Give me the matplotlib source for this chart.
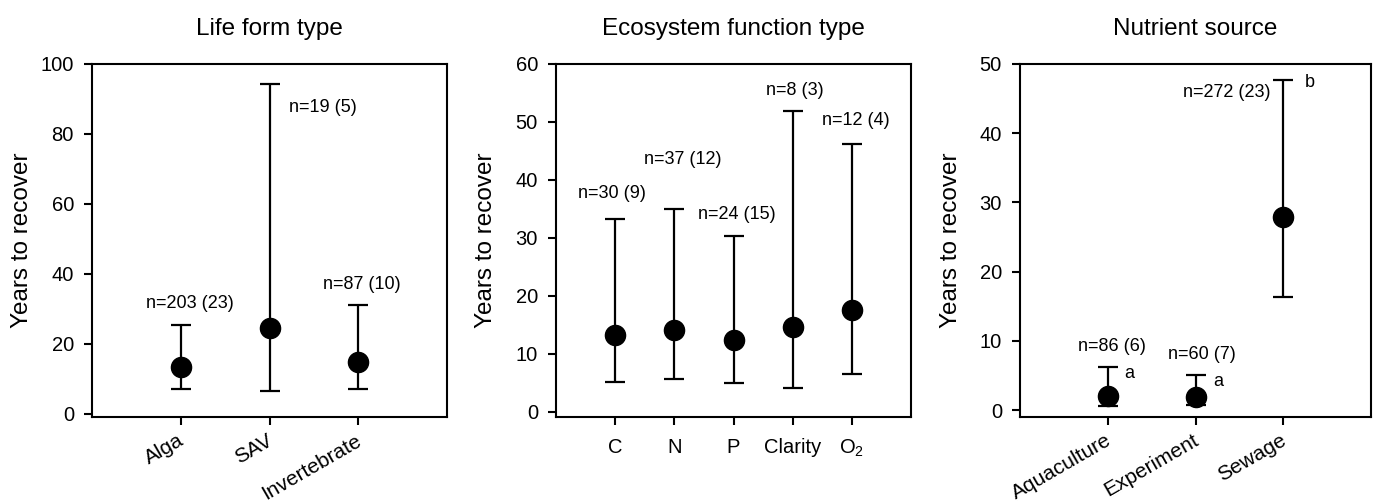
import matplotlib.pyplot as plt
import matplotlib.transforms as mtransforms
import numpy as np

plt.rcParams['font.family'] = ['Liberation Sans', 'DejaVu Sans']
plt.rcParams['mathtext.fontset'] = 'custom'
plt.rcParams['mathtext.rm'] = 'Liberation Sans'
plt.rcParams['mathtext.it'] = 'Liberation Sans:italic'

# Life form type
life_cats = ['Alga', 'SAV', 'Invertebrate']
life_mean = [13.5, 24.4, 14.9]
life_low = [7.0, 6.4, 7.0]
life_high = [25.4, 94.2, 31.1]
life_n = ['n=203 (23)', 'n=19 (5)', 'n=87 (10)']
life_n_pos = [(1.1, 31.6), (2.6, 87.7), (3.04, 36.9)]

# Ecosystem function type
eco_cats = ['C', 'N', 'P', 'Clarity', 'O$_2$']
eco_mean = [13.2, 14.1, 12.3, 14.6, 17.55]
eco_low = [5.2, 5.6, 4.95, 4.1, 6.6]
eco_high = [33.25, 35.0, 30.3, 51.9, 46.2]
eco_n = ['n=30 (9)', 'n=37 (12)', 'n=24 (15)', 'n=8 (3)', 'n=12 (4)']
eco_n_pos = [(0.95, 37.6), (2.15, 43.6), (3.06, 34.1), (4.04, 55.4), (5.07, 50.2)]

# Nutrient source
nut_cats = ['Aquaculture', 'Experiment', 'Sewage']
nut_mean = [2.0, 1.9, 27.9]
nut_low = [0.6, 0.7, 16.4]
nut_high = [6.2, 5.0, 47.7]
nut_n = ['n=86 (6)', 'n=60 (7)', 'n=272 (23)']
nut_n_pos = [(1.045, 9.25), (2.07, 8.1), (2.36, 45.9)]
nut_letters = ['a', 'a', 'b']
nut_letter_pos = [(1.25, 5.3), (2.26, 4.2), (3.3, 47.3)]

W, H = 1373, 504
fig = plt.figure(figsize=(W / 100, H / 100), dpi=100)
shift_left = mtransforms.ScaledTranslation(-3 / 100, 0, fig.dpi_scale_trans)


def panel(left_px, width_px, title, cats, mean, low, high, ylim, yticks,
          rot, labels, label_pos):
    ax = fig.add_axes([left_px / W, 1 - 417 / H, width_px / W, 353 / H])
    x = np.arange(1, len(cats) + 1)
    mean = np.array(mean)
    yerr = [mean - np.array(low), np.array(high) - mean]
    ax.errorbar(x, mean, yerr=yerr, fmt='o', ms=14.5, color='black',
                ecolor='black', elinewidth=1.6, capsize=7, capthick=1.6)
    ax.set_xlim(0, len(cats) + 1)
    ax.set_ylim(*ylim)
    ax.set_yticks(yticks)
    ax.set_xticks(x)
    ax.tick_params(axis='both', direction='out', length=6, width=1.5,
                   labelsize=14.5, pad=7)
    ax.tick_params(axis='x', pad=4 if rot else 9)
    if rot:
        ax.set_xticklabels(cats, rotation=30, ha='right', va='top',
                           rotation_mode='anchor', fontsize=15)
        for lab in ax.get_xticklabels():
            lab.set_transform(lab.get_transform() + shift_left)
    else:
        ax.set_xticklabels(cats)
    for s in ax.spines.values():
        s.set_linewidth(1.5)
    ax.set_title(title, fontsize=17.5, pad=21)
    ax.set_ylabel('Years to recover', fontsize=17.5)
    ax.yaxis.set_label_coords(-0.165, 0.5)
    for t, (tx, ty) in zip(labels, label_pos):
        ax.text(tx, ty, t, ha='center', va='center', fontsize=13)
    return ax


panel(92, 355, 'Life form type', life_cats, life_mean, life_low, life_high,
      (-0.9, 100), [0, 20, 40, 60, 80, 100], True, life_n, life_n_pos)
panel(556, 355, 'Ecosystem function type', eco_cats, eco_mean, eco_low, eco_high,
      (-0.9, 60), [0, 10, 20, 30, 40, 50, 60], False, eco_n, eco_n_pos)
ax3 = panel(1020, 351, 'Nutrient source', nut_cats, nut_mean, nut_low, nut_high,
            (-1.0, 50), [0, 10, 20, 30, 40, 50], True, nut_n, nut_n_pos)
for t, (tx, ty) in zip(nut_letters, nut_letter_pos):
    ax3.text(tx, ty, t, ha='center', va='center', fontsize=13)

fig.savefig('out.png', dpi=100)
